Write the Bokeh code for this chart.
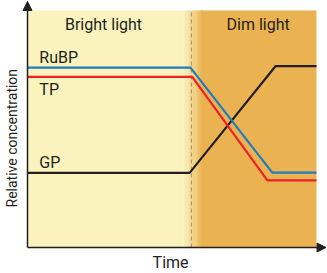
from bokeh.plotting import figure
from bokeh.models import Range1d, Label, Arrow, NormalHead
from bokeh.embed import file_html
from bokeh.resources import INLINE

# ---- data (arbitrary units: time 0..10, relative concentration 0..10) ----
phase_labels = ["Bright light", "Dim light"]
phase_switch = 5.67
time_end = 10.0
conc_top = 10.0

rubp_t = [0.0, 5.64, 8.47, 10.0]
rubp_c = [7.59, 7.59, 3.16, 3.16]

tp_t = [0.0, 5.70, 8.30, 10.0]
tp_c = [7.20, 7.20, 2.83, 2.83]

gp_t = [0.0, 5.61, 8.58, 10.0]
gp_c = [3.15, 3.15, 7.65, 7.65]

series_names = ["RuBP", "TP", "GP"]
series_colors = ["#1f7cc0", "#ee2127", "#231f20"]

FONT = "Roboto"
LIGHT = (250, 243, 190)
DIM = (234, 178, 80)

XS, YS = 28.9, 23.7  # px per unit
p = figure(width=327, height=273, output_backend="svg", toolbar_location=None,
           x_range=Range1d(-27 / XS, 300 / XS), y_range=Range1d(-26 / YS, 247 / YS),
           min_border_left=0, min_border_right=0, min_border_top=0, min_border_bottom=0)
p.axis.visible = False
p.grid.visible = False
p.outline_line_color = None
p.background_fill_color = "white"

# background regions
p.quad(left=[0], right=[5.4], bottom=[0], top=[conc_top],
       fill_color="#%02x%02x%02x" % LIGHT, line_color=None)
p.quad(left=[6.0], right=[time_end], bottom=[0], top=[conc_top],
       fill_color="#%02x%02x%02x" % DIM, line_color=None)
n = 16
g0, g1 = 5.4, 6.05
for i in range(n):
    f = (i + 0.5) / n
    col = tuple(int(LIGHT[k] + (DIM[k] - LIGHT[k]) * f) for k in range(3))
    p.quad(left=[g0 + (g1 - g0) * i / n], right=[g0 + (g1 - g0) * (i + 1) / n + 0.01],
           bottom=[0], top=[conc_top], fill_color="#%02x%02x%02x" % col, line_color=None)

# dashed switch line
p.segment(x0=[phase_switch], y0=[0], x1=[phase_switch], y1=[conc_top],
          line_color="#b08660", line_width=1, line_dash="4 3")

# series
for t, c, col in [(gp_t, gp_c, series_colors[2]), (rubp_t, rubp_c, series_colors[0]),
                  (tp_t, tp_c, series_colors[1])]:
    p.line(t, c, line_color=col, line_width=2.2, line_join="round")

# axes with arrows
p.add_layout(Arrow(end=NormalHead(size=9, fill_color="#231f20", line_color="#231f20"),
                   x_start=0, y_start=0, x_end=0, y_end=10.38,
                   line_color="#231f20", line_width=1.5))
p.add_layout(Arrow(end=NormalHead(size=9, fill_color="#231f20", line_color="#231f20"),
                   x_start=0, y_start=0, x_end=10.33, y_end=0,
                   line_color="#231f20", line_width=1.5))

def lab(x, y, text, align="left", angle=0, size="16px"):
    p.add_layout(Label(x=x, y=y, text=text, text_font=FONT, text_font_size=size,
                       text_color="#231f20", text_align=align, text_baseline="middle",
                       angle=angle))

lab(2.63, 9.43, phase_labels[0], "center")
lab(7.98, 9.43, phase_labels[1], "center")
lab(0.41, 8.03, series_names[0])
lab(0.41, 6.65, series_names[1])
lab(0.41, 3.59, series_names[2])
lab(4.95, -0.63, "Time", "center")
lab(-0.52, 1.69, "Relative concentration", "left", angle=1.5708, size="14px")

open("out.html", "w").write(file_html(p, INLINE))
